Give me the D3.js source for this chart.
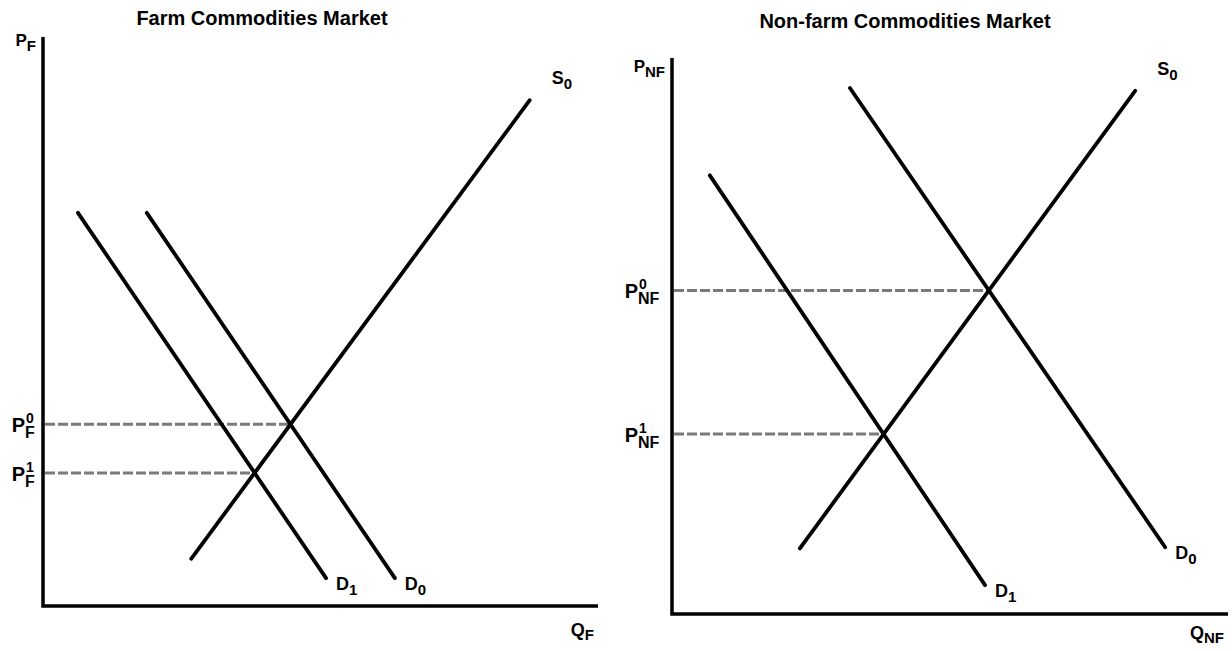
<!DOCTYPE html>
<html>
<head>
<meta charset="utf-8">
<script src="https://cdn.jsdelivr.net/npm/d3@7/dist/d3.min.js"></script>
<style>
  html, body { margin: 0; padding: 0; background: #fff; }
  svg text { font-family: "Liberation Sans", Arial, Helvetica, sans-serif; font-weight: bold; fill: #000; }
</style>
</head>
<body>
<svg id="chart" width="1232" height="651"></svg>
<script>
// ---------- data (abstract units, 0..100 on each axis) ----------
const titles = ["Farm Commodities Market", "Non-farm Commodities Market"];
const priceSub = ["F", "NF"];          // subscript for P and Q
// Farm market
const farmSupplyS0 = [[26.7, 8.3], [87.7, 88.9]];
const farmDemandD0 = [[18.7, 69.1], [63.4, 4.9]];
const farmDemandD1 = [[6.3, 69.1], [51.0, 4.9]];
// Non-farm market
const nonfarmSupplyS0 = [[23.0, 11.8], [83.3, 94.1]];
const nonfarmDemandD0 = [[32.0, 94.6], [88.7, 12.0]];
const nonfarmDemandD1 = [[6.8, 78.9], [56.3, 5.2]];
const curveNames = ["S", "D", "D"];
const curveIdx = ["0", "0", "1"];

// ---------- layout ----------
const svg = d3.select("#chart");
const panels = [
  { x0: 43, x1: 598, yB: 606, yT: 37, titleX: 262, titleY: 25, plY: 46, qlY: 636,
    curves: [farmSupplyS0, farmDemandD0, farmDemandD1] },
  { x0: 672, x1: 1228, yB: 614, yT: 58, titleX: 905, titleY: 28, plY: 72, qlY: 639,
    curves: [nonfarmSupplyS0, nonfarmDemandD0, nonfarmDemandD1] }
];

function intersect(a, b) {
  const [[x1, y1], [x2, y2]] = a, [[x3, y3], [x4, y4]] = b;
  const d = (x1 - x2) * (y3 - y4) - (y1 - y2) * (x3 - x4);
  const t = ((x1 - x3) * (y3 - y4) - (y1 - y3) * (x3 - x4)) / d;
  return [x1 + t * (x2 - x1), y1 + t * (y2 - y1)];
}

panels.forEach((p, i) => {
  const x = d3.scaleLinear().domain([0, 100]).range([p.x0, p.x1]);
  const y = d3.scaleLinear().domain([0, 100]).range([p.yB, p.yT]);
  const g = svg.append("g");

  // title
  g.append("text").attr("x", p.titleX).attr("y", p.titleY)
    .attr("text-anchor", "middle").attr("font-size", 20).text(titles[i]);

  // axes
  g.append("path")
    .attr("d", `M${x(0)},${y(100)} L${x(0)},${y(0)} L${x(100)},${y(0)}`)
    .attr("fill", "none").attr("stroke", "#000").attr("stroke-width", 3.5);

  // axis labels
  const pl = g.append("text").attr("x", x(0) - 7).attr("y", p.plY).attr("text-anchor", "end");
  pl.append("tspan").attr("font-size", 17).text("P");
  pl.append("tspan").attr("font-size", 15).attr("dy", 5).text(priceSub[i]);
  const ql = g.append("text").attr("x", x(100) - 4).attr("y", p.qlY).attr("text-anchor", "end");
  ql.append("tspan").attr("font-size", 18).text("Q");
  ql.append("tspan").attr("font-size", 15).attr("dy", 4).text(priceSub[i]);

  const [s0, d0, d1] = p.curves;
  const eqs = [intersect(s0, d0), intersect(s0, d1)];

  // dashed price lines
  g.selectAll("line.dash").data(eqs).join("line")
    .attr("x1", x(0) + 2).attr("y1", d => y(d[1]))
    .attr("x2", d => x(d[0])).attr("y2", d => y(d[1]))
    .attr("stroke", "#7a7a7a").attr("stroke-width", 3)
    .attr("stroke-dasharray", "10,3");

  // price tick labels P^0, P^1
  eqs.forEach((e, k) => {
    const yy = y(e[1]);
    const subW = i === 0 ? 12 : 28;
    const lx = x(0) - 6 - subW;
    g.append("text").attr("x", lx).attr("y", yy + 8).attr("text-anchor", "end")
      .attr("font-size", 20).text("P");
    g.append("text").attr("x", lx + 1).attr("y", yy - 1).attr("font-size", 14).text(String(k));
    g.append("text").attr("x", lx).attr("y", yy + 14).attr("font-size", 16).text(priceSub[i]);
  });

  // curves
  g.selectAll("line.curve").data(p.curves).join("line")
    .attr("x1", d => x(d[0][0])).attr("y1", d => y(d[0][1]))
    .attr("x2", d => x(d[1][0])).attr("y2", d => y(d[1][1]))
    .attr("stroke", "#000").attr("stroke-width", 3.8).attr("stroke-linecap", "round");

  // curve labels
  p.curves.forEach((c, k) => {
    const isSupply = k === 0;
    const end = c[1];
    const lx = x(end[0]) + (isSupply ? 22 : 10);
    const ly = y(end[1]) + (isSupply ? -16 : 12);
    const t = g.append("text").attr("x", lx).attr("y", ly);
    t.append("tspan").attr("font-size", 18).text(curveNames[k]);
    t.append("tspan").attr("font-size", 15).attr("dy", 5).text(curveIdx[k]);
  });
});
</script>
</body>
</html>
